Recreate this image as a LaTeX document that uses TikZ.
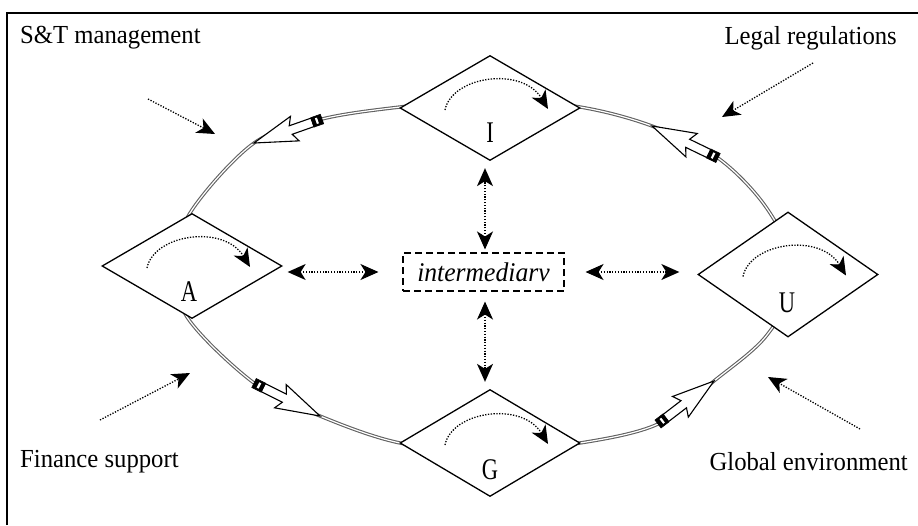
\documentclass[tikz,border=0pt]{standalone}
\usepackage{fontspec}
\usepackage{graphicx}
\setmainfont{Liberation Serif}
\usetikzlibrary{arrows.meta,shapes.geometric,calc}

% horizontally condensed text
\newcommand\squeeze[2]{\scalebox{#1}[1]{#2}}

% hollow block arrow lying on the loop, from tail coordinate #1 to tip coordinate #2
\newcommand\flowarrow[2]{%
  \filldraw[fill=white, line width=1.1pt, line join=miter]
    ($(#1)!0.14!(#2)!4.5pt!90:(#2)$) -- ($(#1)!0.46!(#2)!4.5pt!90:(#2)$)
    -- ($(#1)!0.40!(#2)!13pt!90:(#2)$) -- (#2)
    -- ($(#1)!0.40!(#2)!13pt!-90:(#2)$) -- ($(#1)!0.46!(#2)!4.5pt!-90:(#2)$)
    -- ($(#1)!0.14!(#2)!4.5pt!-90:(#2)$) -- cycle;
  \filldraw[fill=black, line width=0.6pt]
    ($(#1)!5pt!90:(#2)$) -- ($(#1)!0.14!(#2)!5pt!90:(#2)$)
    -- ($(#1)!0.14!(#2)!5pt!-90:(#2)$) -- ($(#1)!5pt!-90:(#2)$) -- cycle;
  \fill[white]
    ($(#1)!0.06!(#2)!3pt!90:(#2)$) -- ($(#1)!0.09!(#2)!3pt!90:(#2)$)
    -- ($(#1)!0.09!(#2)!3pt!-90:(#2)$) -- ($(#1)!0.06!(#2)!3pt!-90:(#2)$) -- cycle;
}

\tikzset{
  frameline/.style={line width=1.6pt},
  loopline/.style={draw=black!62, line width=1.1pt, double=white, double distance=1.2pt},
  hub/.style={diamond, draw, line width=1.3pt, fill=white, inner sep=0pt, minimum width=180pt},
  hubletter/.style={font=\fontsize{30}{32}\selectfont, inner sep=0pt},
  sidelabel/.style={font=\fontsize{26}{30}\selectfont, inner sep=0pt},
  midbox/.style={draw, line width=1.1pt, dash pattern=on 7pt off 4pt, minimum width=161pt,
                 minimum height=38pt, inner sep=0pt, font=\fontsize{27}{30}\selectfont},
  bigtip/.tip={Stealth[length=18pt, width=16pt, inset=5pt]},
  dotline/.style={line width=1.3pt, dash pattern=on 1.3pt off 1.5pt},
  turnarrow/.style={dotline, -bigtip},
  linkarrow/.style={dotline, bigtip-bigtip},
  pusharrow/.style={dotline, -bigtip},
}

\begin{document}
\begin{tikzpicture}[x=1pt, y=-1pt]
\useasboundingbox (0,0) rectangle (918,525);

% frame
\draw[frameline] (7,525) -- (7,13) -- (918,13);

% flow loop
\coordinate (t1) at (322,119);  \coordinate (p1) at (254,143);
\coordinate (t2) at (718,158);  \coordinate (p2) at (652,126);
\coordinate (t3) at (254,383);  \coordinate (p3) at (320,416);
\coordinate (t4) at (658,424);  \coordinate (p4) at (714,381);
\draw[loopline] plot[smooth cycle, tension=0.55] coordinates {
  (178,265) (190,213) (254,143) (322,119) (400,107) (490,99) (580,107)
  (652,126) (718,158) (768,210) (796,275) (767,335) (714,381) (658,424)
  (580,443) (490,451) (400,443) (320,416) (254,383) (187,317)};

% block arrows along the loop
\flowarrow{t1}{p1}
\flowarrow{t2}{p2}
\flowarrow{t3}{p3}
\flowarrow{t4}{p4}

% the four hubs
\node[hub, minimum height=105pt] (I) at (490,108) {};
\node[hub, minimum height=105pt] (A) at (192,266) {};
\node[hub, minimum height=125pt] (U) at (788,274.5) {};
\node[hub, minimum height=107pt] (G) at (490,443) {};

\node[hubletter] (Ilab) at ($(I)+(0,25)$) {\squeeze{0.75}{I}};
\node[hubletter] (Alab) at ($(A)+(-3,26)$) {\squeeze{0.75}{A}};
\node[hubletter] (Ulab) at ($(U)+(-1,28)$) {\squeeze{0.75}{U}};
\node[hubletter] (Glab) at ($(G)+(0,27)$) {\squeeze{0.75}{G}};

% self-turning arrows inside the hubs
\foreach \h in {I,A,U,G}{
  \draw[turnarrow] ($(\h)+(-45,2)$) .. controls ($(\h)+(-38,-32)$) and ($(\h)+(32,-42)$) .. ($(\h)+(58,1)$);
}

% centre
\node[midbox] (mid) at (483.5,272) {\squeeze{0.95}{\itshape intermediarv}};

\draw[linkarrow, shorten <=3pt, shorten >=7pt] ([xshift=1.5pt]mid.north) -- ([xshift=1.5pt]mid.north |- I.south);
\draw[linkarrow, shorten <=10pt, shorten >=7pt] ([xshift=1.5pt]mid.south) -- ([xshift=1.5pt]mid.south |- G.north);
\draw[linkarrow, shorten <=24pt, shorten >=5pt] (mid.west) -- (mid.west -| A.east);
\draw[linkarrow, shorten <=21pt, shorten >=18pt] (mid.east) -- (mid.east -| U.west);

% surrounding factors
\node[sidelabel, anchor=west] (st) at (20,38) {\squeeze{0.95}{S\&T management}};
\node[sidelabel, anchor=east] (lr) at (897,38) {\squeeze{0.95}{Legal regulations}};
\node[sidelabel, anchor=west] (fs) at (20,462) {\squeeze{0.95}{Finance support}};
\node[sidelabel, anchor=east] (ge) at (908,462) {\squeeze{0.95}{Global environment}};

\coordinate (st0) at (148,99);  \coordinate (st1) at (215,134);
\coordinate (lr0) at (813,63);  \coordinate (lr1) at (722,117);
\coordinate (fs0) at (100,420); \coordinate (fs1) at (190,373);
\coordinate (ge0) at (860,429); \coordinate (ge1) at (768,377);
\draw[pusharrow] (st0) -- (st1);
\draw[pusharrow] (lr0) -- (lr1);
\draw[pusharrow] (fs0) -- (fs1);
\draw[pusharrow] (ge0) -- (ge1);
\end{tikzpicture}
\end{document}
